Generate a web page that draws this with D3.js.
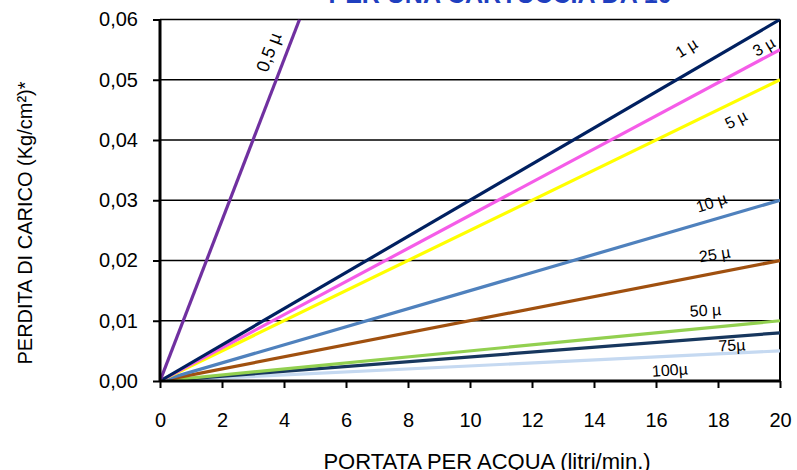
<!DOCTYPE html>
<html>
<head>
<meta charset="utf-8">
<script src="https://cdn.jsdelivr.net/npm/d3@7"></script>
<style>
  body { margin: 0; background: #fff; }
  svg { display: block; font-family: Arial, "Liberation Sans", sans-serif; }
</style>
</head>
<body>
<script>
const width = 797
const height = 470

// perdita di carico a portata 0 e a fine scala, per grado di filtrazione
const series = ["0,5 µ", "1 µ", "3 µ", "5 µ", "10 µ", "25 µ", "50 µ", "75µ", "100µ"]
const flowEnd = [4.5, 20, 20, 20, 20, 20, 20, 20, 20]
const lossEnd = [0.06, 0.06, 0.055, 0.05, 0.03, 0.02, 0.01, 0.008, 0.005]
const colors = ["#7030a0", "#002060", "#f55ce8", "#ffff00", "#4f81bd", "#a0500f", "#92d050", "#17375e", "#c5d9f1"]

// etichette delle curve (in unità del grafico)
const labelFlow = [3.55, 17.0, 19.5, 18.6, 17.8, 17.9, 17.6, 18.45, 16.45]
const labelLoss = [0.0545, 0.0551, 0.0553, 0.0432, 0.0294, 0.0208, 0.0115, 0.0057, 0.0016]
const labelAngle = [-69, -32, -30, -27, -18, -9, -3, -3, -4]

const xTicks = [0, 2, 4, 6, 8, 10, 12, 14, 16, 18, 20]
const yTicks = [0, 0.01, 0.02, 0.03, 0.04, 0.05, 0.06]

const margin = {top: 19.5, right: 17, bottom: 89, left: 160}

const x = d3.scaleLinear().domain([0, 20]).range([margin.left, width - margin.right])
const y = d3.scaleLinear().domain([0, 0.06]).range([height - margin.bottom, margin.top])
const fmt = (d) => d3.format(".2f")(d).replace(".", ",")

const svg = d3.select("body").append("svg").attr("width", width).attr("height", height)

svg.append("defs").append("clipPath").attr("id", "plot")
  .append("rect")
  .attr("x", x(0)).attr("y", y(0.06))
  .attr("width", x(20) - x(0)).attr("height", y(0) - y(0.06))

// griglia
svg.append("g")
  .selectAll("line")
  .data(yTicks.slice(1))
  .join("line")
  .attr("x1", x(0)).attr("x2", x(20))
  .attr("y1", (d) => y(d)).attr("y2", (d) => y(d))
  .attr("stroke", "#000")
  .attr("stroke-width", 1.3)

// bordo destro
svg.append("line")
  .attr("x1", x(20)).attr("x2", x(20))
  .attr("y1", y(0.06)).attr("y2", y(0))
  .attr("stroke", "#000").attr("stroke-width", 2)

// curve
const line = d3.line().x((d) => x(d[0])).y((d) => y(d[1]))
svg.append("g")
  .attr("clip-path", "url(#plot)")
  .selectAll("path")
  .data(series.map((s, i) => ({name: s, pts: [[0, 0], [flowEnd[i], lossEnd[i]]], color: colors[i]})).reverse())
  .join("path")
  .attr("d", (d) => line(d.pts))
  .attr("fill", "none")
  .attr("stroke", (d) => d.color)
  .attr("stroke-width", 3.2)

// assi
const xAxis = svg.append("g")
  .attr("transform", `translate(0,${y(0)})`)
  .call(d3.axisBottom(x).tickValues(xTicks).tickSize(7).tickPadding(25).tickFormat(d3.format("d")))
const yAxis = svg.append("g")
  .attr("transform", `translate(${x(0)},0)`)
  .call(d3.axisLeft(y).tickValues(yTicks).tickSize(7).tickPadding(15).tickFormat(fmt))

for (const ax of [xAxis, yAxis]) {
  ax.select(".domain").attr("stroke", "#000").attr("stroke-width", 3)
  ax.selectAll(".tick line").attr("stroke", "#000").attr("stroke-width", 2)
  ax.selectAll(".tick text").attr("fill", "#000").style("font-size", "20px").style("font-family", "Arial, 'Liberation Sans', sans-serif")
}
xAxis.select(".domain").attr("d", `M${x(0)},0H${x(20)}`)
yAxis.select(".domain").attr("d", `M0,${y(0)}V${y(0.06)}`)

// etichette curve
svg.append("g")
  .selectAll("text")
  .data(series)
  .join("text")
  .attr("transform", (d, i) => `translate(${x(labelFlow[i])},${y(labelLoss[i])}) rotate(${labelAngle[i]})`)
  .attr("text-anchor", "middle")
  .attr("dominant-baseline", "middle")
  .style("font-size", (d, i) => (i === 0 ? "18px" : "16px"))
  .text((d) => d)

// titoli
svg.append("text")
  .attr("x", 500).attr("y", 2.5)
  .attr("text-anchor", "middle")
  .attr("fill", "#1f3fbf")
  .style("font-size", "25px")
  .style("font-weight", "bold")
  .text("PER UNA CARTUCCIA DA 10")

svg.append("text")
  .attr("x", 487).attr("y", 469)
  .attr("text-anchor", "middle")
  .style("font-size", "22px")
  .text("PORTATA PER ACQUA (litri/min.)")

svg.append("text")
  .attr("transform", `translate(32,223) rotate(-90)`)
  .attr("text-anchor", "middle")
  .style("font-size", "20px")
  .text("PERDITA DI CARICO (Kg/cm²)*")
</script>
</body>
</html>
